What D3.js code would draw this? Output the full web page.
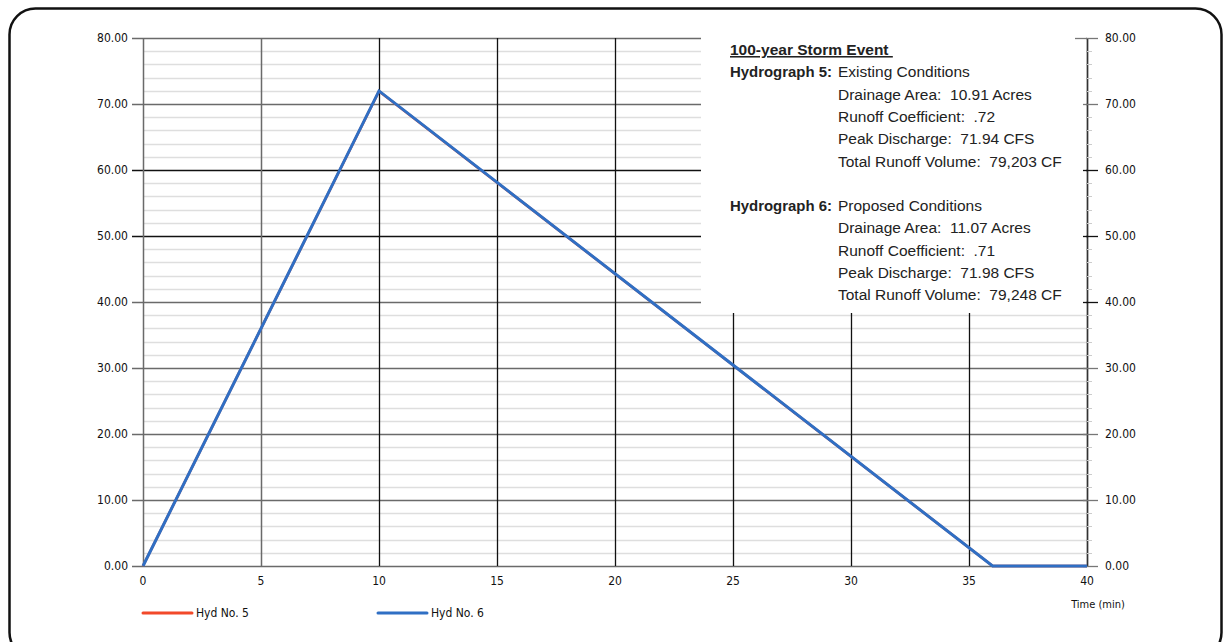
<!DOCTYPE html>
<html>
<head>
<meta charset="utf-8">
<script src="https://cdn.jsdelivr.net/npm/d3@7"></script>
<style>
  html, body { margin: 0; padding: 0; background: #fff; }
  svg { display: block; }
  .tick-lbl { font-family: "DejaVu Sans Condensed", "Liberation Sans", Arial, sans-serif; font-size: 12px; fill: #111; }
  .box-txt { font-family: "Liberation Sans", Arial, sans-serif; font-size: 15.5px; fill: #222; }
</style>
</head>
<body>
<div id="chart"></div>
<script>
// Hydrographs 5 and 6 (rational method), time in minutes vs flow in CFS
const timeHyd5 = [0, 10, 36, 40];
const flowHyd5 = [0, 71.94, 0, 0];
const timeHyd6 = [0, 10, 36, 40];
const flowHyd6 = [0, 71.98, 0, 0];

const xTicks = [0, 5, 10, 15, 20, 25, 30, 35, 40];
const yTicks = [0, 10, 20, 30, 40, 50, 60, 70, 80];
const yMinor = d3.range(0, 81, 2);

const seriesNames = ['Hyd No. 5', 'Hyd No. 6'];
const seriesColors = ['#f2492a', '#2f6fc4'];

const boxTitle = '100-year Storm Event ';
const boxRows = [
  ['Hydrograph 5:', 'Existing Conditions'],
  ['', 'Drainage Area:  10.91 Acres'],
  ['', 'Runoff Coefficient:  .72'],
  ['', 'Peak Discharge:  71.94 CFS'],
  ['', 'Total Runoff Volume:  79,203 CF'],
  null,
  ['Hydrograph 6:', 'Proposed Conditions'],
  ['', 'Drainage Area:  11.07 Acres'],
  ['', 'Runoff Coefficient:  .71'],
  ['', 'Peak Discharge:  71.98 CFS'],
  ['', 'Total Runoff Volume:  79,248 CF']
];

(function(){
  const W = 1224, H = 642;
  const svg = d3.select('#chart').append('svg').attr('width', W).attr('height', H);

  // rounded frame
  svg.append('rect').attr('x', 9.5).attr('y', 8.5).attr('width', 1212).attr('height', 650)
    .attr('rx', 26).attr('fill', 'none').attr('stroke', '#111').attr('stroke-width', 2.5);

  const x = d3.scaleLinear().domain([0, 40]).range([143, 1087]);
  const y = d3.scaleLinear().domain([0, 80]).range([566, 38]);

  const g = svg.append('g');

  // minor horizontal grid
  g.selectAll('.minor').data(yMinor.filter(v => v % 10 !== 0)).enter().append('line')
    .attr('x1', x(0)).attr('x2', x(40))
    .attr('y1', d => Math.round(y(d)) + 0.5).attr('y2', d => Math.round(y(d)) + 0.5)
    .attr('stroke', '#dedede').attr('stroke-width', 1.3);

  // major horizontal grid
  g.selectAll('.majorh').data(yTicks).enter().append('line')
    .attr('x1', x(0) - 11).attr('x2', x(40))
    .attr('y1', d => Math.round(y(d)) + 0.5).attr('y2', d => Math.round(y(d)) + 0.5)
    .attr('stroke', d => (d === 50 || d === 60) ? '#111' : '#6a6a6a')
    .attr('stroke-width', d => (d === 50 || d === 60) ? 1.3 : 1.5);

  // vertical grid
  g.selectAll('.majorv').data(xTicks).enter().append('line')
    .attr('x1', d => Math.round(x(d)) + 0.5).attr('x2', d => Math.round(x(d)) + 0.5)
    .attr('y1', y(80)).attr('y2', y(0))
    .attr('stroke', d => (d === 0 || d === 5 || d === 40) ? '#6a6a6a' : '#111')
    .attr('stroke-width', d => (d === 0 || d === 5 || d === 40) ? 1.5 : 1.3);

  // info box covers the grid
  svg.append('rect').attr('x', 701).attr('y', 31).attr('width', 385).attr('height', 282).attr('fill', '#fff');

  // right axis
  svg.append('line').attr('x1', 1087.5).attr('x2', 1087.5).attr('y1', y(80)).attr('y2', y(0))
    .attr('stroke', '#333').attr('stroke-width', 1.4);
  svg.selectAll('.rminor').data(yMinor.filter(v => v % 10 !== 0)).enter().append('line')
    .attr('x1', 1087).attr('x2', 1092)
    .attr('y1', d => Math.round(y(d)) + 0.5).attr('y2', d => Math.round(y(d)) + 0.5)
    .attr('stroke', '#ccc');
  svg.selectAll('.rmajor').data(yTicks).enter().append('line')
    .attr('x1', d => d === 80 ? 1075 : 1083).attr('x2', 1098)
    .attr('y1', d => Math.round(y(d)) + 0.5).attr('y2', d => Math.round(y(d)) + 0.5)
    .attr('stroke', d => (d === 50 || d === 60 || d === 40) ? '#111' : '#777').attr('stroke-width', 1.3);

  // tick labels
  svg.selectAll('.ly').data(yTicks).enter().append('text').attr('class', 'tick-lbl')
    .attr('x', 128).attr('y', d => y(d)).attr('dy', '0.35em').attr('text-anchor', 'end')
    .text(d => d3.format('.2f')(d));
  svg.selectAll('.ry').data(yTicks).enter().append('text').attr('class', 'tick-lbl')
    .attr('x', 1105).attr('y', d => y(d)).attr('dy', '0.35em')
    .text(d => d3.format('.2f')(d));
  svg.selectAll('.lx').data(xTicks).enter().append('text').attr('class', 'tick-lbl')
    .attr('x', d => x(d)).attr('y', 585).attr('text-anchor', 'middle')
    .text(d => d);
  svg.append('text').attr('class', 'tick-lbl').attr('x', 1098).attr('y', 608)
    .attr('text-anchor', 'middle').style('font-size', '11px').text('Time (min)');

  // series
  const line = d3.line().x(d => x(d[0])).y(d => y(d[1]));
  const s5 = timeHyd5.map((t, i) => [t, flowHyd5[i]]);
  const s6 = timeHyd6.map((t, i) => [t, flowHyd6[i]]);
  [s5, s6].forEach((s, i) => {
    svg.append('path').datum(s).attr('d', line).attr('fill', 'none')
      .attr('stroke', seriesColors[i]).attr('stroke-width', i === 0 ? 2.6 : 3)
      .attr('stroke-linejoin', 'miter');
  });

  // legend
  const legX = [143, 378];
  seriesNames.forEach((n, i) => {
    svg.append('line').attr('x1', legX[i]).attr('x2', legX[i] + 49).attr('y1', 613).attr('y2', 613)
      .attr('stroke', seriesColors[i]).attr('stroke-width', 3).attr('stroke-linecap', 'round');
    svg.append('text').attr('class', 'tick-lbl').attr('x', legX[i] + 53).attr('y', 613).attr('dy', '0.35em')
      .text(n);
  });

  // info text
  const bx = 730, vx = 838, by = 55, lh = 22.3;
  svg.append('text').attr('class', 'box-txt').attr('x', bx).attr('y', by)
    .style('font-weight', 'bold').style('text-decoration', 'underline').attr('xml:space', 'preserve')
    .text(boxTitle);
  boxRows.forEach((r, i) => {
    if (!r) return;
    const yy = by + lh * (i + 1);
    if (r[0]) svg.append('text').attr('class', 'box-txt').attr('x', bx).attr('y', yy)
      .style('font-weight', 'bold').attr('textLength', 102).attr('lengthAdjust', 'spacingAndGlyphs')
      .text(r[0]);
    svg.append('text').attr('class', 'box-txt').attr('x', vx).attr('y', yy)
      .style('white-space', 'pre').text(r[1]);
  });
})();
</script>
</body>
</html>
